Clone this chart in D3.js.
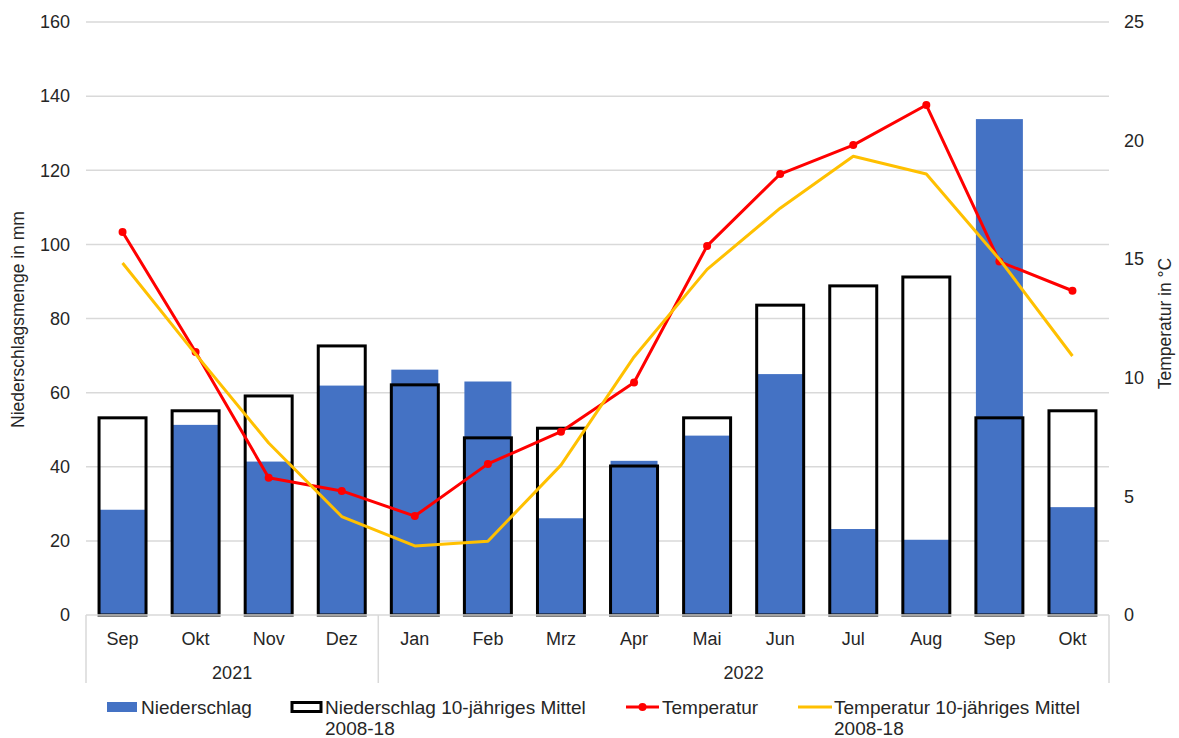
<!DOCTYPE html>
<html lang="de">
<head>
<meta charset="utf-8">
<script src="https://cdn.jsdelivr.net/npm/d3@7"></script>
<style>
  html, body { margin: 0; padding: 0; background: #fff; }
  svg { display: block; font-family: "Liberation Sans", Arial, sans-serif; }
</style>
</head>
<body>
<svg id="chart" width="1179" height="738"></svg>
<script>
// Monthly precipitation and temperature, Sep 2021 – Okt 2022
const months = ["Sep", "Okt", "Nov", "Dez", "Jan", "Feb", "Mrz", "Apr", "Mai", "Jun", "Jul", "Aug", "Sep", "Okt"];
const years = [
  { label: "2021", from: 0, to: 4 },
  { label: "2022", from: 4, to: 14 }
];
const niederschlag = [28.4, 51.3, 41.4, 61.9, 66.2, 63.0, 26.1, 41.6, 48.4, 65.0, 23.2, 20.3, 133.8, 29.1];
const niederschlagMittel = [53.2, 55.1, 59.1, 72.6, 62.1, 47.8, 50.4, 40.2, 53.2, 83.6, 88.8, 91.2, 53.2, 55.1];
const temperatur = [16.15, 11.09, 5.79, 5.23, 4.17, 6.37, 7.73, 9.8, 15.56, 18.59, 19.81, 21.5, 14.9, 13.67];
const temperaturMittel = [14.84, 11.0, 7.25, 4.15, 2.91, 3.11, 6.32, 10.88, 14.57, 17.15, 19.34, 18.59, 15.0, 10.92];
const leftTicks = [0, 20, 40, 60, 80, 100, 120, 140, 160];
const rightTicks = [0, 5, 10, 15, 20, 25];

const svg = d3.select("#chart");
const plot = { left: 86, right: 1109, top: 22, bottom: 615 };

const x = d3.scaleBand()
  .domain(d3.range(months.length))
  .range([plot.left, plot.right])
  .paddingInner(0.357)
  .paddingOuter(0.1785);
const yL = d3.scaleLinear().domain([0, 160]).range([plot.bottom, plot.top]);
const yR = d3.scaleLinear().domain([0, 25]).range([plot.bottom, plot.top]);

const gridColor = "#d9d9d9";
const textColor = "#262626";

// horizontal gridlines
svg.append("g")
  .selectAll("line")
  .data(leftTicks.filter(d => d > 0))
  .join("line")
  .attr("x1", plot.left).attr("x2", plot.right)
  .attr("y1", d => yL(d)).attr("y2", d => yL(d))
  .attr("stroke", gridColor).attr("stroke-width", 1.5);

// left axis labels
const axisL = d3.axisLeft(yL).tickValues(leftTicks).tickSize(0).tickPadding(16);
svg.append("g")
  .attr("transform", `translate(${plot.left},0)`)
  .call(axisL)
  .call(g => g.select(".domain").remove())
  .call(g => g.selectAll("text")
    .attr("font-size", 18).attr("fill", textColor)
    .attr("font-family", "Liberation Sans, Arial, sans-serif"));

// right axis labels
const axisR = d3.axisRight(yR).tickValues(rightTicks).tickSize(0).tickPadding(15);
svg.append("g")
  .attr("transform", `translate(${plot.right},0)`)
  .call(axisR)
  .call(g => g.select(".domain").remove())
  .call(g => g.selectAll("text")
    .attr("font-size", 18).attr("fill", textColor)
    .attr("font-family", "Liberation Sans, Arial, sans-serif"));

// axis titles
svg.append("text")
  .attr("transform", `translate(24,${(plot.top + plot.bottom) / 2 + 1}) rotate(-90)`)
  .attr("text-anchor", "middle")
  .attr("font-size", 17.5).attr("fill", textColor)
  .text("Niederschlagsmenge in mm");
svg.append("text")
  .attr("transform", `translate(1171,${(plot.top + plot.bottom) / 2 + 5}) rotate(-90)`)
  .attr("text-anchor", "middle")
  .attr("font-size", 17.5).attr("fill", textColor)
  .text("Temperatur in °C");

// precipitation bars
svg.append("g")
  .selectAll("rect")
  .data(niederschlag)
  .join("rect")
  .attr("x", (d, i) => x(i))
  .attr("width", x.bandwidth())
  .attr("y", d => yL(d))
  .attr("height", d => yL(0) - yL(d))
  .attr("fill", "#4472c4");

// 10-year mean precipitation, outlined bars
svg.append("g")
  .selectAll("rect")
  .data(niederschlagMittel)
  .join("rect")
  .attr("x", (d, i) => x(i))
  .attr("width", x.bandwidth())
  .attr("y", d => yL(d))
  .attr("height", d => yL(0) - yL(d))
  .attr("fill", "none")
  .attr("stroke", "#000")
  .attr("stroke-width", 3)
  .attr("stroke-linejoin", "miter");

// category axis line and group separators
svg.append("line")
  .attr("x1", plot.left).attr("x2", plot.right)
  .attr("y1", plot.bottom).attr("y2", plot.bottom)
  .attr("stroke", gridColor).attr("stroke-width", 1.5);
const sepX = [plot.left, ...years.slice(1).map(yv => x(yv.from) - x.step() * x.paddingInner() / 2), plot.right];
svg.append("g")
  .selectAll("line")
  .data(sepX)
  .join("line")
  .attr("x1", d => d).attr("x2", d => d)
  .attr("y1", plot.bottom).attr("y2", 683)
  .attr("stroke", gridColor).attr("stroke-width", 1.5);

const cx = i => x(i) + x.bandwidth() / 2;

svg.append("g")
  .selectAll("text")
  .data(months)
  .join("text")
  .attr("x", (d, i) => cx(i))
  .attr("y", 645)
  .attr("text-anchor", "middle")
  .attr("font-size", 18).attr("fill", textColor)
  .text(d => d);

svg.append("g")
  .selectAll("text")
  .data(years)
  .join("text")
  .attr("x", d => {
    const a = d.from === 0 ? plot.left : x(d.from) - x.step() * x.paddingInner() / 2;
    const b = d.to === months.length ? plot.right : x(d.to) - x.step() * x.paddingInner() / 2;
    return (a + b) / 2;
  })
  .attr("y", 679)
  .attr("text-anchor", "middle")
  .attr("font-size", 18).attr("fill", textColor)
  .text(d => d.label);

// temperature lines
const line = d3.line().x((d, i) => cx(i)).y(d => yR(d));

svg.append("path")
  .datum(temperatur)
  .attr("d", line)
  .attr("fill", "none")
  .attr("stroke", "#ff0000")
  .attr("stroke-width", 3)
  .attr("stroke-linejoin", "round");
svg.append("g")
  .selectAll("circle")
  .data(temperatur)
  .join("circle")
  .attr("cx", (d, i) => cx(i))
  .attr("cy", d => yR(d))
  .attr("r", 4)
  .attr("fill", "#ff0000");

svg.append("path")
  .datum(temperaturMittel)
  .attr("d", line)
  .attr("fill", "none")
  .attr("stroke", "#ffc000")
  .attr("stroke-width", 3)
  .attr("stroke-linejoin", "round");

// legend
const lg = svg.append("g").attr("font-size", 19).attr("fill", textColor);
lg.append("rect").attr("x", 107).attr("y", 702).attr("width", 30).attr("height", 10).attr("fill", "#4472c4");
lg.append("text").attr("x", 141).attr("y", 714).text("Niederschlag");

lg.append("rect").attr("x", 292).attr("y", 702.5).attr("width", 29).attr("height", 9)
  .attr("fill", "none").attr("stroke", "#000").attr("stroke-width", 3);
lg.append("text").attr("x", 325).attr("y", 714).text("Niederschlag 10-jähriges Mittel");
lg.append("text").attr("x", 325).attr("y", 735).text("2008-18");

lg.append("line").attr("x1", 626).attr("x2", 659).attr("y1", 707).attr("y2", 707)
  .attr("stroke", "#ff0000").attr("stroke-width", 3);
lg.append("circle").attr("cx", 642.5).attr("cy", 707).attr("r", 4).attr("fill", "#ff0000");
lg.append("text").attr("x", 662).attr("y", 714).text("Temperatur");

lg.append("line").attr("x1", 798).attr("x2", 832).attr("y1", 707).attr("y2", 707)
  .attr("stroke", "#ffc000").attr("stroke-width", 3);
lg.append("text").attr("x", 834).attr("y", 714).text("Temperatur 10-jähriges Mittel");
lg.append("text").attr("x", 834).attr("y", 735).text("2008-18");
</script>
</body>
</html>
